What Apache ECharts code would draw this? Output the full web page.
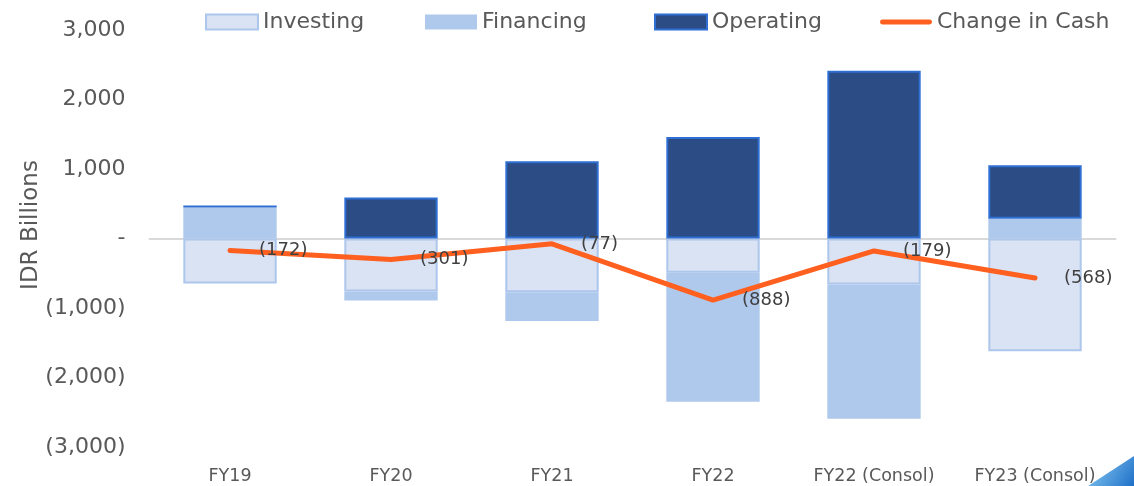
<!DOCTYPE html>
<html>
<head>
<meta charset="utf-8">
<script src="https://cdn.jsdelivr.net/npm/echarts@6/dist/echarts.min.js"></script>
<style>
  html, body { margin: 0; padding: 0; background: #fff; }
  #main { width: 1134px; height: 486px; }
</style>
</head>
<body>
<div id="main"></div>
<script>
// 数据
var categories = ['FY19', 'FY20', 'FY21', 'FY22', 'FY22 (Consol)', 'FY23 (Consol)'];
var investing = [-648, -762, -775, -494, -662, -1623];
var financing = [446, -129, -412, -1856, -1932, 283];
var operating = [30, 590, 1110, 1462, 2415, 772];
var changeInCash = [-172, -301, -77, -888, -179, -568];

var FONT = 'DejaVu Sans';
var TXT = '#595959';
var ORANGE = '#ff5f1f';

// 负数用括号, 0 显示 "-"
function fmt(v) {
  if (v === 0) return '-';
  var s = Math.abs(v).toLocaleString('en-US');
  return v < 0 ? '(' + s + ')' : s;
}

// 图例逐项定位
function legendAt(left, name, icon) {
  return {
    top: 6,
    left: left,
    itemWidth: 52,
    itemHeight: 15,
    textStyle: { fontFamily: FONT, fontSize: 22, color: TXT },
    data: [{ name: name, icon: icon || 'rect' }]
  };
}

var chart = echarts.init(document.getElementById('main'));

var option = {
  animation: false,
  textStyle: { fontFamily: FONT },
  legend: [
    legendAt(200, 'Investing'),
    legendAt(420, 'Financing'),
    legendAt(649, 'Operating'),
    legendAt(875, 'Change in Cash', 'path://M2,0 L50,0 A2.5,2.5 0 0 1 50,5 L2,5 A2.5,2.5 0 0 1 2,0 Z')
  ],
  grid: { left: 149.5, right: 18.5, top: 30, bottom: 39 },
  xAxis: {
    type: 'category',
    data: categories,
    axisTick: { show: false },
    axisLine: { lineStyle: { color: '#d9d9d9', width: 2 } },
    axisLabel: { color: TXT, fontSize: 17.5, fontFamily: FONT, margin: 20, interval: 0 }
  },
  yAxis: {
    type: 'value',
    min: -3000,
    max: 3000,
    interval: 1000,
    splitLine: { show: false },
    axisLine: { show: false },
    axisTick: { show: false },
    axisLabel: { color: TXT, fontSize: 22, fontFamily: FONT, margin: 24, formatter: fmt }
  },
  series: [
    {
      name: 'Investing',
      type: 'bar',
      stack: 'cf',
      barWidth: '58%',
      data: investing,
      itemStyle: { color: '#dae3f3', borderColor: '#adc6ec', borderWidth: 2 }
    },
    {
      name: 'Financing',
      type: 'bar',
      stack: 'cf',
      data: financing,
      itemStyle: { color: '#afc9ed' }
    },
    {
      name: 'Operating',
      type: 'bar',
      stack: 'cf',
      data: operating,
      itemStyle: { color: '#2b4c84', borderColor: '#2f6fd4', borderWidth: 2 }
    },
    {
      name: 'Change in Cash',
      type: 'line',
      data: changeInCash,
      symbol: 'circle',
      symbolSize: 2,
      z: 5,
      lineStyle: { color: ORANGE, width: 5, cap: 'round' },
      itemStyle: { color: ORANGE },
      label: {
        show: true,
        position: 'right',
        distance: 28,
        color: '#404040',
        fontSize: 18,
        fontFamily: FONT,
        formatter: function (p) { return fmt(p.value); }
      }
    }
  ],
  graphic: [
    {
      type: 'text',
      x: 31,
      y: 225,
      rotation: Math.PI / 2,
      silent: true,
      style: {
        text: 'IDR Billions',
        fill: TXT,
        font: '23px "DejaVu Sans"',
        align: 'center',
        verticalAlign: 'middle'
      }
    },
    {
      type: 'polygon',
      silent: true,
      shape: { points: [[1134, 456], [1134, 486], [1088, 486]] },
      style: {
        fill: new echarts.graphic.LinearGradient(0, 0, 1, 1, [
          { offset: 0, color: '#8fd0f5' },
          { offset: 1, color: '#1e6fc8' }
        ])
      }
    }
  ]
};

chart.setOption(option);
</script>
</body>
</html>
